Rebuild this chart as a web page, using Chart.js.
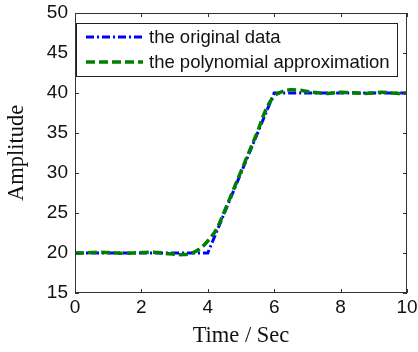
<!DOCTYPE html>
<html>
<head>
<meta charset="utf-8">
<script src="https://cdn.jsdelivr.net/npm/chart.js@4.4.0/dist/chart.umd.min.js"></script>
<style>
  html, body { margin: 0; padding: 0; background: #fff; }
  canvas { display: block; }
</style>
</head>
<body>
<canvas id="chart" width="418" height="352"></canvas>
<script>
// original data: flat, linear ramp, flat
const ORIG_T = [0, 1, 2, 3, 4, 4.5, 5, 5.5, 6, 7, 8, 9, 10];
const ORIG_Y = [20, 20, 20, 20, 20, 25, 30, 35, 40, 40, 40, 40, 40];

// polynomial fit
const POLY_T = [0, 0.25, 0.5, 0.75, 1, 1.25, 1.5, 1.75, 2, 2.25, 2.5, 2.75, 3, 3.25, 3.5, 3.75,
                4, 4.25, 4.5, 4.75, 5, 5.25, 5.5, 5.75, 6, 6.25, 6.5, 6.75, 7, 7.25, 7.5, 7.75,
                8, 8.25, 8.5, 8.75, 9, 9.25, 9.5, 9.75, 10];
const POLY_Y = [20, 20, 20.05, 20.1, 20.05, 20, 19.95, 20, 20.05, 20.1, 20.05, 19.95, 19.85, 19.8, 19.95, 20.5,
                21.5, 22.9, 25.2, 27.7, 30.2, 32.7, 35.2, 37.9, 39.6, 40.2, 40.4, 40.35, 40.2, 40.05, 39.95, 40,
                40.1, 40.05, 40, 39.95, 40, 40.1, 40, 39.95, 40];

const X_TICKS = [0, 2, 4, 6, 8, 10];
const Y_TICKS = [15, 20, 25, 30, 35, 40, 45, 50];
const LABELS = ['the original data', 'the polynomial approximation'];

const SANS = "'Liberation Sans', Arial, sans-serif";
const SERIF = "'Liberation Serif', 'Times New Roman', serif";

// MATLAB-like box with inward ticks on all four sides, plus the boxed legend
const boxPlugin = {
  id: 'box',
  afterDatasetsDraw(chart) {
    const { ctx, chartArea: a, scales: { x, y } } = chart;
    ctx.save();
    ctx.strokeStyle = '#333';
    ctx.lineWidth = 1;
    ctx.strokeRect(a.left + 0.5, a.top + 0.5, a.right - a.left - 1, a.bottom - a.top - 1);
    ctx.beginPath();
    X_TICKS.forEach(v => {
      const px = Math.round(x.getPixelForValue(v)) + 0.5;
      ctx.moveTo(px, a.bottom); ctx.lineTo(px, a.bottom - 4);
      ctx.moveTo(px, a.top); ctx.lineTo(px, a.top + 4);
    });
    Y_TICKS.forEach(v => {
      const py = Math.round(y.getPixelForValue(v)) + 0.5;
      ctx.moveTo(a.left, py); ctx.lineTo(a.left + 4, py);
      ctx.moveTo(a.right, py); ctx.lineTo(a.right - 4, py);
    });
    ctx.stroke();

    // legend box
    const lx = a.left + 1, ly = a.top + 10, lw = 321, lh = 53;
    ctx.fillStyle = '#fff';
    ctx.fillRect(lx, ly, lw, lh);
    ctx.strokeStyle = '#222';
    ctx.strokeRect(lx + 0.5, ly + 0.5, lw, lh);
    chart.data.datasets.forEach((ds, i) => {
      const yy = ly + 14 + i * 25;
      ctx.beginPath();
      ctx.setLineDash(ds.borderDash);
      ctx.strokeStyle = ds.borderColor;
      ctx.lineWidth = ds.borderWidth;
      ctx.moveTo(lx + 10, yy); ctx.lineTo(lx + 67, yy);
      ctx.stroke();
      ctx.setLineDash([]);
      ctx.fillStyle = '#111';
      ctx.font = '18.5px ' + SANS;
      ctx.textBaseline = 'middle';
      ctx.fillText(LABELS[i], lx + 73, yy + 1);
    });
    ctx.restore();
  }
};

new Chart(document.getElementById('chart'), {
  type: 'line',
  data: {
    datasets: [
      {
        label: LABELS[0],
        data: ORIG_T.map((t, i) => ({ x: t, y: ORIG_Y[i] })),
        borderColor: '#0000FF',
        borderWidth: 3,
        borderDash: [8, 3, 2, 3],
        pointRadius: 0,
        tension: 0,
        order: 1,
      },
      {
        label: LABELS[1],
        data: POLY_T.map((t, i) => ({ x: t, y: POLY_Y[i] })),
        borderColor: '#008000',
        borderWidth: 3.5,
        borderDash: [9, 4],
        pointRadius: 0,
        tension: 0.4,
        order: 0,
      },
    ],
  },
  options: {
    responsive: false,
    animation: false,
    layout: { padding: { top: 13, right: 11 } },
    plugins: { legend: { display: false }, tooltip: { enabled: false } },
    scales: {
      x: {
        type: 'linear', min: 0, max: 10,
        afterBuildTicks: ax => { ax.ticks = X_TICKS.map(v => ({ value: v })); },
        afterFit: ax => { ax.height = 59; ax.paddingLeft = 0; ax.paddingRight = 0; },
        grid: { display: false, drawTicks: false },
        border: { display: false },
        ticks: { color: '#111', font: { family: SANS, size: 19 }, padding: 3, maxRotation: 0 },
        title: { display: true, text: 'Time / Sec', color: '#111',
                 font: { family: SERIF, size: 22.5 },
                 padding: { top: 0, bottom: 2 } },
      },
      y: {
        min: 15, max: 50,
        afterBuildTicks: ax => { ax.ticks = Y_TICKS.map(v => ({ value: v })); },
        afterFit: ax => { ax.width = 75; ax.paddingTop = 0; ax.paddingBottom = 0; },
        grid: { display: false, drawTicks: false },
        border: { display: false },
        ticks: { color: '#111', font: { family: SANS, size: 19 }, padding: 7 },
        title: { display: true, text: 'Amplitude', color: '#111',
                 font: { family: SERIF, size: 22.5 },
                 padding: { top: 4, bottom: 0 } },
      },
    },
  },
  plugins: [boxPlugin],
});
</script>
</body>
</html>
